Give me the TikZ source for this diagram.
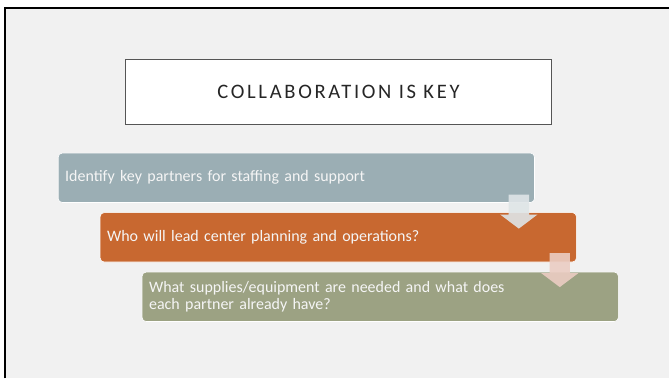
\documentclass[tikz,border=0pt]{standalone}
\usepackage{fontspec}
\setmainfont{Carlito}
\newfontfamily\titlefont[LetterSpace=13]{Carlito}
\usetikzlibrary{shapes.arrows, positioning, calc}
\definecolor{slidebg}{HTML}{F1F1F1}
\definecolor{framegray}{HTML}{555555}
\definecolor{titletext}{HTML}{262626}
\definecolor{stepblue}{HTML}{9BAEB4}
\definecolor{steporange}{HTML}{C86830}
\definecolor{stepgreen}{HTML}{9CA283}
\definecolor{arrowblue}{HTML}{DFE5E7}
\definecolor{arrowpink}{HTML}{EBCDC3}

\begin{document}
\begin{tikzpicture}[x=1pt, y=1pt,
    every node/.style={font=\fontsize{16}{17}\selectfont},
    titlebox/.style={rectangle, draw=framegray, line width=1pt, fill=white,
                     minimum width=426pt, minimum height=65pt,
                     font=\titlefont\fontsize{20.6}{22}\selectfont, text=titletext},
    stepbox/.style={rectangle, rounded corners=4pt, draw=white, line width=0.6pt,
                    minimum height=49.5pt, text width=463pt, inner xsep=7pt,
                    align=left, text=white!96!black},
    downarrow/.style={single arrow, rotate=-90, minimum height=34pt, inner xsep=0pt,
                      inner ysep=10pt, single arrow head extend=8.5pt,
                      single arrow tip angle=106, fill opacity=0.9}
]
    \fill[white] (0,0) rectangle (670,379);
    \fill[slidebg] (5.5,0) rectangle (670,371);
    \draw[black, line width=2pt] (5.5,0) -- (5.5,371) -- (670,371);

    \node[titlebox] (title) at (339,286.5) {COLLABORATION IS KEY};

    \node[stepbox, fill=stepblue, anchor=north west] (partners) at (58,226)
        {Identify key partners for staffing and support};
    \node[stepbox, fill=steporange, below=9.5pt of partners.south west,
          anchor=north west, xshift=42pt] (lead)
        {Who will lead center planning and operations?};
    \node[stepbox, fill=stepgreen, below=9.5pt of lead.south west,
          anchor=north west, xshift=42pt] (supplies)
        {What supplies/equipment are needed and what does\\each partner already have?};

    \node[downarrow, fill=arrowblue] (arrowa) at ($(partners.south east)+(-16,-5)$) {};
    \node[downarrow, fill=arrowpink] (arrowb) at ($(lead.south east)+(-17,-4)$) {};
\end{tikzpicture}
\end{document}
